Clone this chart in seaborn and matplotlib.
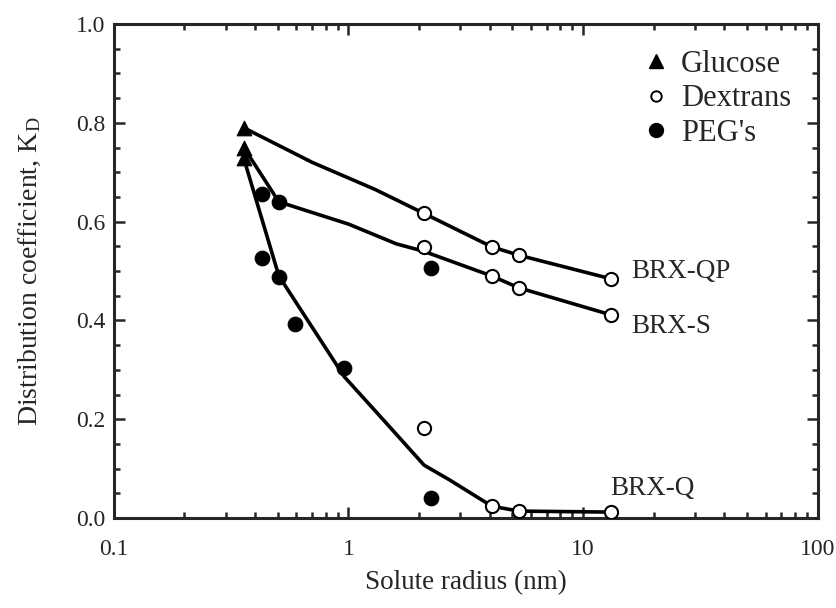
import numpy as np
import pandas as pd
import seaborn as sns
import matplotlib
matplotlib.use("Agg")
from matplotlib import pyplot as plt
from matplotlib.lines import Line2D
from matplotlib.ticker import MultipleLocator, LogLocator, FixedFormatter, FixedLocator, NullFormatter, FormatStrFormatter

# measured points
glucose_x = [0.358, 0.358, 0.358]
glucose_y = [0.79, 0.749, 0.728]

dextran_x = [2.09, 2.09, 2.09, 4.08, 4.08, 4.08, 5.32, 5.32, 5.32, 13.2, 13.2, 13.2]
dextran_y = [0.617, 0.549, 0.182, 0.549, 0.490, 0.024, 0.532, 0.466, 0.014, 0.484, 0.411, 0.012]

peg_x = [0.43, 0.43, 0.505, 0.505, 0.59, 0.955, 2.24, 2.24]
peg_y = [0.655, 0.527, 0.640, 0.488, 0.393, 0.303, 0.507, 0.041]

# fitted curves
qp_x = [0.358, 0.7, 1.3, 2.09, 4.08, 5.32, 13.2]
qp_y = [0.79, 0.72, 0.665, 0.617, 0.549, 0.532, 0.484]
s_x = [0.358, 0.505, 1.0, 1.6, 2.09, 4.08, 5.32, 13.2]
s_y = [0.75, 0.640, 0.595, 0.555, 0.54, 0.490, 0.466, 0.411]
q_x = [0.358, 0.505, 0.96, 1.4, 2.1, 2.7, 4.08, 5.32, 13.2]
q_y = [0.728, 0.49, 0.286, 0.20, 0.107, 0.077, 0.024, 0.014, 0.012]

curve_names = ["BRX-QP", "BRX-S", "BRX-Q"]

sns.set_style("ticks")
plt.rcParams['font.family'] = ['Liberation Serif', 'DejaVu Serif']
plt.rcParams['mathtext.fontset'] = 'stix'

fig, ax = plt.subplots(figsize=(8.37, 6.08), dpi=100)
fig.subplots_adjust(left=0.136, right=0.977, top=0.9605, bottom=0.148)

curves = pd.concat([
    pd.DataFrame({"x": qp_x, "y": qp_y, "c": curve_names[0]}),
    pd.DataFrame({"x": s_x, "y": s_y, "c": curve_names[1]}),
    pd.DataFrame({"x": q_x, "y": q_y, "c": curve_names[2]}),
])
for name, g in curves.groupby("c"):
    sns.lineplot(x="x", y="y", data=g, sort=False, ax=ax, color="black", lw=2.6, legend=False)

sns.scatterplot(x=glucose_x, y=glucose_y, marker="^", s=110, color="black", edgecolor="black", ax=ax, zorder=5)
sns.scatterplot(x=dextran_x, y=dextran_y, marker="o", s=90, facecolor="white", edgecolor="black", linewidth=1.5, ax=ax, zorder=5)
sns.scatterplot(x=peg_x, y=peg_y, marker="o", s=110, color="black", edgecolor="black", ax=ax, zorder=5)

ax.set_xscale("log")
ax.set_xlim(0.1, 100)
ax.set_ylim(0, 1.0)
ax.xaxis.set_major_locator(FixedLocator([0.1, 1, 10, 100]))
ax.xaxis.set_major_formatter(FixedFormatter(["0.1", "1", "10", "100"]))
ax.xaxis.set_minor_locator(LogLocator(base=10, subs=np.arange(2, 10)))
ax.xaxis.set_minor_formatter(NullFormatter())
ax.yaxis.set_major_locator(MultipleLocator(0.2))
ax.yaxis.set_major_formatter(FormatStrFormatter("%.1f"))
ax.yaxis.set_minor_locator(MultipleLocator(0.05))

ax.tick_params(which="both", direction="in", top=True, right=True, labelsize=17, width=1.8)
ax.tick_params(which="major", length=8)
ax.tick_params(which="minor", length=4)
ax.tick_params(axis="x", which="major", pad=15)
ax.tick_params(axis="y", which="major", pad=6)
for sp in ax.spines.values():
    sp.set_linewidth(2.2)
    sp.set_visible(True)

ax.set_xlabel("Solute radius (nm)", fontsize=19.5)
ax.set_ylabel("Distribution coefficient, K$_\\mathregular{D}$", fontsize=20)
ax.xaxis.set_label_coords(0.5, -0.105)
ax.yaxis.set_label_coords(-0.1, 0.5)

ax.text(16.1, 0.50, curve_names[0], fontsize=19.5, va="center", ha="left")
ax.text(16.1, 0.387, curve_names[1], fontsize=19.5, va="center", ha="left")
ax.text(13.1, 0.059, curve_names[2], fontsize=19.5, va="center", ha="left")

handles = [
    Line2D([], [], ls="none", marker="^", ms=10, color="black"),
    Line2D([], [], ls="none", marker="o", ms=7.5, mfc="white", mec="black", mew=1.4),
    Line2D([], [], ls="none", marker="o", ms=10, color="black"),
]
ax.legend(handles, ["Glucose", "Dextrans", "PEG's"], frameon=False, fontsize=22,
          loc="upper left", bbox_to_anchor=(0.727, 0.985), handlelength=0.8,
          handletextpad=0.4, labelspacing=0.18, borderaxespad=0.2)

fig.savefig("out.png", dpi=100)
